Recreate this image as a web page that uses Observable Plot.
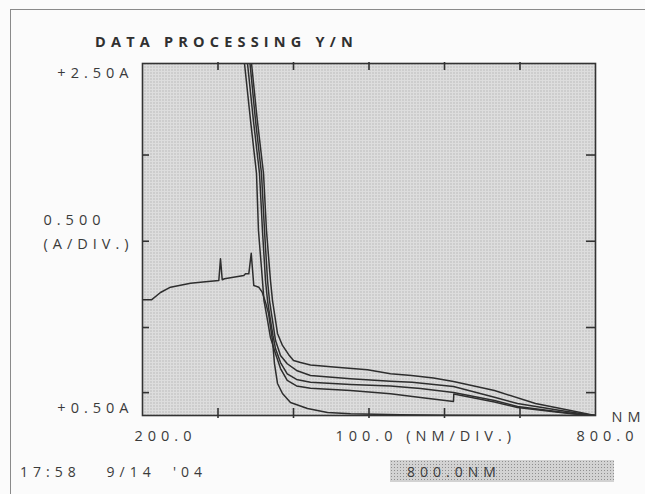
<!DOCTYPE html>
<html><head><meta charset="utf-8">
<script src="https://cdn.jsdelivr.net/npm/d3@7"></script>
<script src="https://cdn.jsdelivr.net/npm/@observablehq/plot@0.6"></script>
<style>
body{margin:0;background:#fbfbfb;}
#wrap{position:relative;width:645px;height:494px;overflow:hidden;font-family:"Open Sans",sans-serif;color:#3a3a3a;}
#wrap svg{position:absolute;left:0;top:0;}
#wrap svg text{letter-spacing:5px;}
.ov{position:absolute;white-space:pre;font-size:14px;letter-spacing:5px;line-height:1;}
#border{position:absolute;left:10px;top:9px;width:640px;height:490px;border-top:1.5px solid #8a8a8a;border-left:1.5px solid #8a8a8a;}
#title{left:95px;top:35px;font-weight:700;font-size:14.5px;letter-spacing:5.2px;color:#303030;}
#date{left:20px;top:465px;}
#box{position:absolute;left:390px;top:460px;width:224px;height:22px;background-color:#d2d2d2;background-image:radial-gradient(#8f8f8f 0.7px, transparent 1px);background-size:3px 3px;}
#boxtxt{left:407px;top:465px;}
</style></head><body><div id="wrap"></div>
<script>
// ---- data (nm, absorbance) ----
const curveA_nm  = [200,211.9,223.8,237.1,263.6,283.4,301.1,303.3,305.6,308.6,334.2,336.4,340.8,344.0,347.4,354.0,358.5,362.9,366.9,372.2,374.8,378.8,385.4,396.0,418.5,445.0,475.5,541.7,607.9,800];
const curveA_abs = [1.157,1.157,1.199,1.229,1.252,1.260,1.267,1.390,1.271,1.277,1.295,1.305,1.305,1.422,1.239,1.229,1.201,1.144,1.080,0.926,0.795,0.682,0.625,0.574,0.540,0.517,0.510,0.504,0.501,0.500];

const curve1_nm  = [341.7,344.4,352.0,360.3,364.2,369.5,372.2,376.2,378.8,385.4,393.4,400.0,409.3,422.5,453.0,498.0,528.5,556.3,585.4,611.9,666.2,720.5,766.9,800];
const curve1_abs = [2.631,2.5,2.18,1.875,1.551,1.267,1.153,1.040,0.966,0.898,0.847,0.8125,0.801,0.787,0.776,0.760,0.737,0.727,0.713,0.693,0.642,0.568,0.528,0.500];

const curve2_nm  = [339.7,342.4,349.6,357.6,361.6,365.6,368.2,372.2,376.2,382.8,391.7,404.0,422.5,475.5,528.5,557.0,611.9,666.2,696.7,753.6,786.8,800];
const curve2_abs = [2.631,2.5,2.18,1.875,1.551,1.267,1.153,1.040,0.926,0.841,0.794,0.756,0.727,0.709,0.695,0.689,0.665,0.604,0.568,0.528,0.507,0.500];

const curve3_nm  = [336.4,339.1,346.8,355.0,358.9,362.9,365.6,369.5,372.8,376.2,382.8,391.7,404.0,422.5,475.5,528.5,568.2,611.9,666.2,696.7,753.6,786.8,800];
const curve3_abs = [2.631,2.5,2.18,1.875,1.551,1.267,1.153,1.040,0.955,0.879,0.801,0.737,0.705,0.689,0.676,0.668,0.653,0.631,0.585,0.551,0.520,0.503,0.500];

const curve4_nm  = [332.5,335.1,343.0,351.0,353.6,358.9,360.9,365.6,369.5,376.2,382.8,391.7,404.0,422.5,475.5,528.5,568.2,611.9,612.3,666.2,696.7,753.6,786.8,800];
const curve4_abs = [2.631,2.5,2.18,1.875,1.551,1.267,1.153,1.040,0.943,0.851,0.767,0.699,0.668,0.655,0.642,0.623,0.602,0.580,0.622,0.577,0.545,0.517,0.502,0.500];

const xTicks = [300,400,500,600,700];
const yTicks = [1.98,1.49,1.0,0.63];
const xDomain = [200,800];
const yDomain = [0.5,2.5];
const yTopLabel = ["+2.50A"];
const yBottomLabel = ["+0.50A"];
const yUnitLabel = "0.500\n(A/DIV.)";
const xLeftLabel = ["200.0"];
const xRightLabel = ["800.0"];
const xUnitLabel = "100.0 (NM/DIV.)";
const xNameLabel = "NM";
const titleText = "DATA PROCESSING Y/N";
const dateText = "17:58   9/14  '04";
const statusText = "800.0NM";

// ---- build ----
const toRows = (nm, ab) => nm.map((v,i)=>({nm:v, a:ab[i]}));
const series = [toRows(curveA_nm,curveA_abs),toRows(curve1_nm,curve1_abs),toRows(curve2_nm,curve2_abs),toRows(curve3_nm,curve3_abs),toRows(curve4_nm,curve4_abs)];

const W=645,H=494,mL=142,mR=50,mT=63,mB=79;
const pw=W-mL-mR, ph=H-mT-mB;
const ink="#3a3a3a";
const txt={fontSize:14.5,fontFamily:"Open Sans",fill:ink};

const plot = Plot.plot({
  width:W,height:H,marginLeft:mL,marginRight:mR,marginTop:mT,marginBottom:mB,
  style:{background:"transparent",color:ink},
  x:{domain:xDomain,axis:null},
  y:{domain:yDomain,axis:null},
  marks:[
    Plot.frame({fill:"url(#stip)"}),
    ...series.map(s=>Plot.line(s,{x:"nm",y:"a",stroke:"#2e2e2e",strokeWidth:1.5,clip:true})),
    Plot.ruleX(xTicks,{x:d=>d,insetBottom:ph-7,insetTop:-1,stroke:"#333",strokeWidth:1.6}),
    Plot.ruleX(xTicks,{x:d=>d,insetTop:ph-7,insetBottom:-3,stroke:"#333",strokeWidth:1.6}),
    Plot.ruleY(yTicks,{y:d=>d,insetRight:pw-7,stroke:"#333",strokeWidth:1.6}),
    Plot.ruleY(yTicks,{y:d=>d,insetLeft:pw-9,stroke:"#333",strokeWidth:1.6}),
    Plot.frame({stroke:"#333",strokeWidth:1.6}),
    Plot.text(yTopLabel,{y:()=>yDomain[1],text:d=>d,frameAnchor:"left",textAnchor:"end",dx:-9,dy:10,...txt}),
    Plot.text(yBottomLabel,{y:()=>yDomain[0],text:d=>d,frameAnchor:"left",textAnchor:"end",dx:-9,dy:-7,...txt}),
    Plot.text([yUnitLabel],{text:d=>d,frameAnchor:"left",textAnchor:"start",dx:-99,dy:-10,lineHeight:1.6,...txt}),
    Plot.text(xLeftLabel,{x:()=>xDomain[0],text:d=>d,frameAnchor:"bottom",textAnchor:"start",dx:-8,dy:25,...txt}),
    Plot.text(xRightLabel,{x:()=>xDomain[1],text:d=>d,frameAnchor:"bottom",textAnchor:"start",dx:-19,dy:25,...txt}),
    Plot.text([xUnitLabel],{text:d=>d,frameAnchor:"bottom",textAnchor:"start",dx:335-(mL+pw/2),dy:25,...txt}),
    Plot.text([xNameLabel],{x:()=>xDomain[1],text:d=>d,frameAnchor:"bottom",textAnchor:"start",dx:16,dy:6,...txt})
  ]
});

const svg = plot.tagName.toLowerCase()==="svg" ? plot : plot.querySelector("svg");
const ns="http://www.w3.org/2000/svg";
const defs=document.createElementNS(ns,"defs");
const pat=document.createElementNS(ns,"pattern");
pat.setAttribute("id","stip");pat.setAttribute("width","3");pat.setAttribute("height","3");pat.setAttribute("patternUnits","userSpaceOnUse");
const r1=document.createElementNS(ns,"rect");r1.setAttribute("width","3");r1.setAttribute("height","3");r1.setAttribute("fill","#dddddd");
const r2=document.createElementNS(ns,"rect");r2.setAttribute("width","1");r2.setAttribute("height","1");r2.setAttribute("fill","#9c9c9c");
pat.appendChild(r1);pat.appendChild(r2);defs.appendChild(pat);svg.insertBefore(defs,svg.firstChild);

const wrap=document.getElementById("wrap");
wrap.appendChild(plot);
const add=(id,cls,text)=>{const d=document.createElement("div");d.id=id;if(cls)d.className=cls;if(text!=null)d.textContent=text;wrap.appendChild(d);};
add("border","",null);
add("title","ov",titleText);
add("date","ov",dateText);
add("box","",null);
add("boxtxt","ov",statusText);
</script></body></html>
